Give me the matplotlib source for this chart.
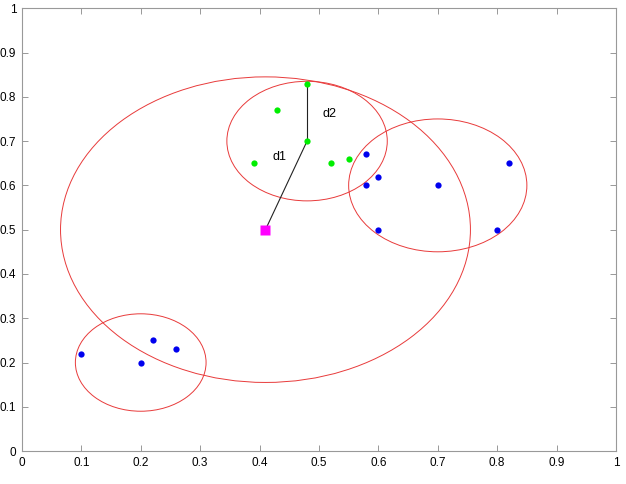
import numpy as np
import matplotlib
matplotlib.use('Agg')
import matplotlib.pyplot as plt
from matplotlib.patches import Ellipse

plt.rcParams['font.family'] = ['Liberation Sans', 'DejaVu Sans']

blue_x = [0.10, 0.20, 0.22, 0.26, 0.58, 0.60, 0.58, 0.60, 0.70, 0.80, 0.82]
blue_y = [0.22, 0.20, 0.25, 0.23, 0.67, 0.62, 0.60, 0.50, 0.60, 0.50, 0.65]
green_x = [0.39, 0.43, 0.48, 0.48, 0.52, 0.55]
green_y = [0.65, 0.77, 0.83, 0.70, 0.65, 0.66]
query = (0.41, 0.50)

# circles: center x, center y, radius
circ_x = [0.41, 0.48, 0.70, 0.20]
circ_y = [0.50, 0.70, 0.60, 0.20]
circ_r = [0.345, 0.135, 0.15, 0.11]

fig = plt.figure(figsize=(6.26, 4.84), dpi=100)
ax = fig.add_axes([0.035, 0.068, 0.949, 0.915])

for cx, cy, r in zip(circ_x, circ_y, circ_r):
    ax.add_patch(Ellipse((cx, cy), 2 * r, 2 * r, fill=False,
                         edgecolor='#e83a3a', lw=0.7))

ax.plot([0.48, 0.48], [0.83, 0.70], color='#222222', lw=0.8)
ax.plot([0.48, query[0]], [0.70, query[1]], color='#222222', lw=0.8)

ax.plot(blue_x, blue_y, 'o', color='#0000ee', ms=4.5, mec='none')
ax.plot(green_x, green_y, 'o', color='#00ee00', ms=4.5, mec='none')
ax.plot(query[0], query[1], 's', color='#ff00ff', ms=7, mec='none')

ax.text(0.517, 0.762, 'd2', fontsize=9, ha='center', va='center')
ax.text(0.433, 0.665, 'd1', fontsize=9, ha='center', va='center')

ax.set_xlim(0, 1)
ax.set_ylim(0, 1)
ax.set_xticks(np.arange(0, 1.01, 0.1))
ax.set_yticks(np.arange(0, 1.01, 0.1))
ax.set_xticklabels(['0'] + ['%.1f' % v for v in np.arange(0.1, 0.95, 0.1)] + ['1'])
ax.set_yticklabels(['0'] + ['%.1f' % v for v in np.arange(0.1, 0.95, 0.1)] + ['1'])
ax.tick_params(direction='in', top=True, right=True, length=4, width=0.6,
               color='#888888', labelsize=8.5, pad=4)
for s in ax.spines.values():
    s.set_color('#999999')
    s.set_linewidth(0.8)

fig.savefig('out.png', dpi=100)
